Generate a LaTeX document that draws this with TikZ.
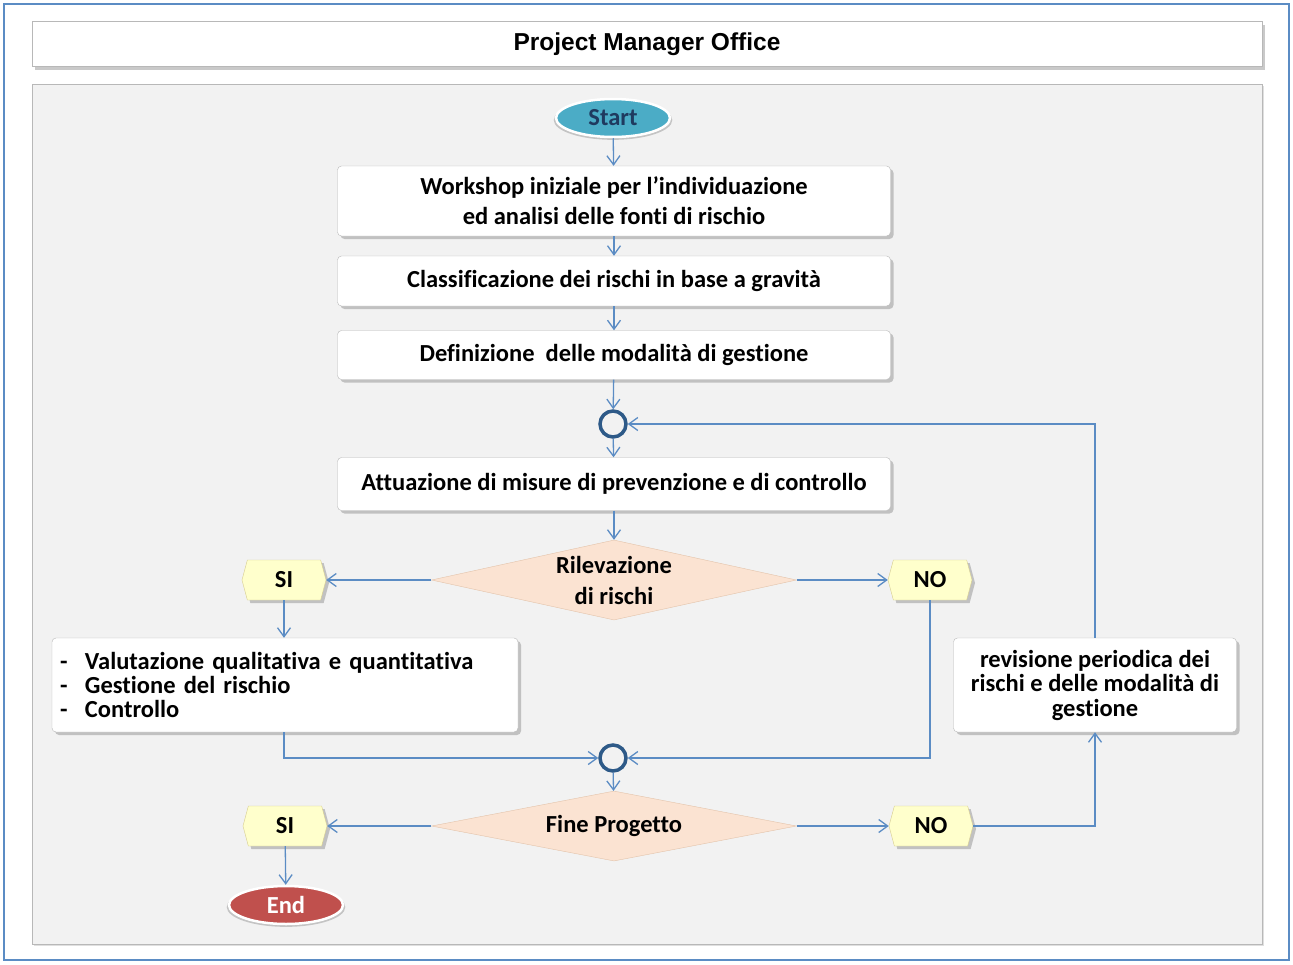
\documentclass[tikz,border=0pt]{standalone}
\usepackage{fontspec}
\setmainfont{Carlito}[Ligatures={TeX,NoCommon}]
\newfontfamily\titlefont{Liberation Sans}
\usepackage{tikz}
\usetikzlibrary{
  positioning, shapes.geometric, shapes.symbols, shadows, arrows.meta
}
\definecolor{flowblue}{HTML}{5B8CC4}
\definecolor{framegray}{HTML}{B8B8B8}
\definecolor{panelgray}{HTML}{F2F2F2}
\definecolor{joinblue}{HTML}{2E5A88}
\definecolor{startteal}{HTML}{4BACC6}
\definecolor{startnavy}{HTML}{1F3A5F}
\definecolor{endred}{HTML}{C0504D}
\definecolor{diamondpeach}{HTML}{FBE3D2}
\definecolor{diamondline}{HTML}{E3C3AA}
\definecolor{answeryellow}{HTML}{FFFFCC}
\definecolor{answerline}{HTML}{D6CC8E}
\tikzset{
	boxshadow/.style={
			drop shadow={shadow xshift=3pt, shadow yshift=-3pt, opacity=0.35, fill=black!60}
		},
	stepnode/.style={
			shape=rectangle,
			rounded corners=4pt,
			draw=framegray,
			fill=white,
			boxshadow,
			align=center,
			inner sep=0pt,
			font=\bfseries\fontsize{24.5}{30}\selectfont
		},
	decisionnode/.style={
			diamond,
			aspect=4.56,
			draw=diamondline,
			fill=diamondpeach,
			inner sep=0pt,
			align=center,
			font=\bfseries\fontsize{24.5}{31}\selectfont
		},
	answernode/.style={
			signal,
			signal to=west and east,
			signal pointer angle=150,
			draw=answerline,
			fill=answeryellow,
			boxshadow,
			minimum width=84pt,
			minimum height=40pt,
			inner sep=0pt,
			font=\bfseries\fontsize{24.5}{24}\selectfont
		},
	joinnode/.style={
			circle,
			draw=joinblue,
			line width=3.5pt,
			fill=panelgray,
			minimum size=26pt,
			inner sep=0pt
		},
	terminalnode/.style={
			ellipse,
			draw=white,
			line width=2.5pt,
			drop shadow={shadow xshift=0pt, shadow yshift=-2pt, opacity=0.4, fill=black!50, shadow scale=1.04},
			minimum width=114pt,
			minimum height=38pt,
			inner sep=0pt,
			font=\bfseries\fontsize{24.5}{24}\selectfont
		},
	flowarrow/.style={
			draw=flowblue,
			line width=1.3pt,
			-{Straight Barb[length=9pt, width=13pt, line width=1.3pt]}
		}
}

\begin{document}
\begin{tikzpicture}[x=1pt, y=-1pt]

	\useasboundingbox (0,0) rectangle (1293,964);
	\fill[white] (0,0) rectangle (1293,964);
	\draw[flowblue, line width=2pt] (4,4) rectangle (1289,960);

	% title and panel
	\node[draw=framegray, fill=white, boxshadow, minimum width=1230pt, minimum height=45pt,
		font=\titlefont\bfseries\fontsize{24.5}{28}\selectfont] (title) at (647,44) {Project Manager Office};
	\draw[framegray, fill=panelgray, line width=1pt, drop shadow={shadow xshift=2pt, shadow yshift=-2pt, opacity=0.25}]
		(32,84) rectangle (1262,944);

	\node[terminalnode, fill=startteal, text=startnavy] (start) at (613,118) {Start};

	\node[stepnode, minimum width=553pt, minimum height=70pt] (workshop) at (614,201)
		{Workshop iniziale per l’individuazione\\ed analisi delle fonti di rischio};
	\node[stepnode, minimum width=553pt, minimum height=50pt] (classificazione) at (614,281)
		{Classificazione dei rischi in base a gravità};
	\node[stepnode, minimum width=553pt, minimum height=49pt] (definizione) at (614,355)
		{Definizione\ \ delle modalità di gestione};

	\node[joinnode] (join1) at (613,424) {};

	\node[stepnode, minimum width=553pt, minimum height=53pt] (attuazione) at (614,484)
		{Attuazione di misure di prevenzione e di controllo};

	\node[decisionnode, minimum width=365pt, minimum height=80pt] (rilevazione) at (614,580)
		{Rilevazione\\di rischi};
	\node[answernode] (si1) at (284,580) {SI};
	\node[answernode] (no1) at (930,580) {NO};

	\node[stepnode, minimum width=466pt, minimum height=94pt, text width=450pt, align=left,
		font=\bfseries\fontsize{24.5}{24}\selectfont] (valutazione) at (285,685)
		{\makebox[25pt][l]{-}Valutazione qualitativa e quantitativa\\
		 \makebox[25pt][l]{-}Gestione del rischio\\
		 \makebox[25pt][l]{-}Controllo\\[2pt]};
	\node[stepnode, minimum width=283pt, minimum height=94pt,
		font=\bfseries\fontsize{24.5}{24.5}\selectfont] (revisione) at (1095,685)
		{revisione periodica dei\\rischi e delle modalità di\\gestione};

	\node[joinnode] (join2) at (613,758) {};

	\node[decisionnode, minimum width=365pt, minimum height=70pt] (fine) at (614,826)
		{Fine Progetto};
	\node[answernode] (si2) at (285,826) {SI};
	\node[answernode] (no2) at (931,826) {NO};

	\node[terminalnode, fill=endred, text=white] (end) at (286,905) {End};

	% connectors
	\draw[flowarrow] (start) -- (workshop);
	\draw[flowarrow] (workshop) -- (classificazione);
	\draw[flowarrow] (classificazione) -- (definizione);
	\draw[flowarrow] (definizione) -- (join1);
	\draw[flowarrow] (join1) -- (attuazione);
	\draw[flowarrow] (attuazione) -- (rilevazione);
	\draw[flowarrow] (rilevazione.west) -- (si1.east);
	\draw[flowarrow] (rilevazione.east) -- (no1.west);
	\draw[flowarrow] (si1.south) -- (si1.south |- valutazione.north);
	\draw[flowarrow] (valutazione.south -| si1.south) |- (join2.west);
	\draw[flowarrow] (no1.south) |- (join2.east);
	\draw[flowarrow] (join2) -- (fine);
	\draw[flowarrow] (fine.west) -- (si2.east);
	\draw[flowarrow] (fine.east) -- (no2.west);
	\draw[flowarrow] (si2) -- (end);
	\draw[flowarrow] (no2.east) -| (revisione.south);
	\draw[flowarrow] (revisione.north) |- (join1.east);

\end{tikzpicture}
\end{document}
